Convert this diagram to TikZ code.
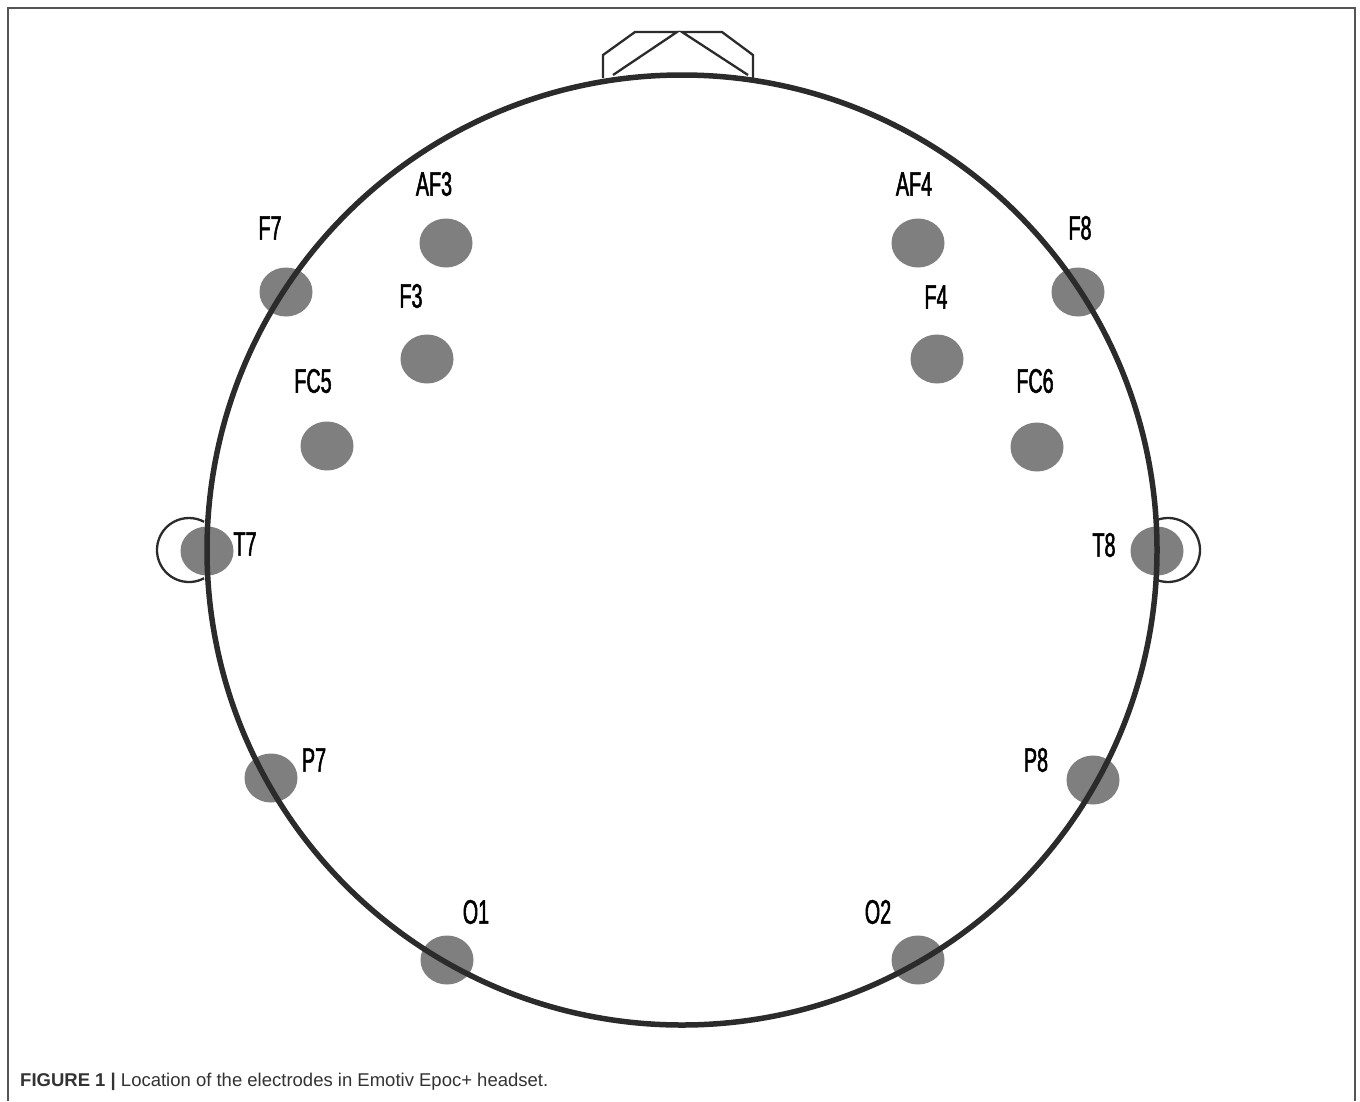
\documentclass[tikz,border=0pt]{standalone}
\usepackage{fontspec}
\setmainfont{Liberation Sans}
\newfontfamily\labfont[FakeStretch=0.58,FakeBold=1.5]{Liberation Sans}
\usetikzlibrary{shapes.geometric}
\definecolor{headcol}{HTML}{2B2B2B}
\definecolor{elcol}{HTML}{7F7F7F}
\definecolor{framecol}{HTML}{555555}
\definecolor{capcol}{HTML}{333333}
\tikzset{
  electrode/.style={ellipse, fill=elcol, draw=none, minimum width=53pt, minimum height=49pt, inner sep=0pt},
  elabel/.style={font=\labfont\fontsize{34}{38}\selectfont, text=black, inner sep=0pt},
  headline/.style={draw=headcol, line width=5.5pt},
  thinline/.style={draw=headcol, line width=2.3pt},
}
\begin{document}
\begin{tikzpicture}[x=1pt,y=-1pt]
\useasboundingbox (0,0) rectangle (1360,1101);
\fill[white] (0,0) rectangle (1360,1101);
% frame
\draw[framecol, line width=1.5pt] (8,1101) -- (8,8) -- (1355,8) -- (1355,1101);
% nose
\draw[thinline, line join=miter] (603,78) -- (603,55) -- (635,32) -- (677,32) -- (613,75);
\draw[thinline, line join=miter] (753,78) -- (753,55) -- (722,32) -- (682,32) -- (748,75);
% ears
\draw[thinline] (189,550) ++(62:32) arc[start angle=62, end angle=298, radius=32];
\draw[thinline] (1168,550) ++(-115:32) arc[start angle=-115, end angle=115, radius=32];
% electrodes
\node[electrode] (af3) at (446,243) {};
\node[electrode] (af4) at (918,243) {};
\node[electrode] (f7) at (286,292) {};
\node[electrode] (f8) at (1078,292) {};
\node[electrode] (f3) at (427,359) {};
\node[electrode] (f4) at (937,359) {};
\node[electrode] (fc5) at (327,446) {};
\node[electrode] (fc6) at (1037,447) {};
\node[electrode] (t7) at (207,551) {};
\node[electrode] (t8) at (1157,551) {};
\node[electrode] (p7) at (271,778) {};
\node[electrode] (p8) at (1093,780) {};
\node[electrode] (o1) at (447,960) {};
\node[electrode] (o2) at (918,960) {};
% head
\node[circle, headline, minimum size=950pt, inner sep=0pt] (head) at (682,550) {};
% labels
\node[elabel] (laf3) at (434,184) {AF3};
\node[elabel] (laf4) at (914,184) {AF4};
\node[elabel] (lf7) at (270,228) {F7};
\node[elabel] (lf8) at (1080,228) {F8};
\node[elabel] (lf3) at (411,296) {F3};
\node[elabel] (lf4) at (936,297) {F4};
\node[elabel] (lfc5) at (313,381) {FC5};
\node[elabel] (lfc6) at (1035,381) {FC6};
\node[elabel] (lt7) at (245,544) {T7};
\node[elabel] (lt8) at (1104,545) {T8};
\node[elabel] (lp7) at (314,760) {P7};
\node[elabel] (lp8) at (1036,760) {P8};
\node[elabel] (lo1) at (476,912) {O1};
\node[elabel] (lo2) at (878,912) {O2};
% caption
\node[anchor=west, inner sep=0pt, text=capcol, font=\fontsize{18.5}{22}\selectfont] (cap) at (20,1082) {\textbf{FIGURE 1 |} Location of the electrodes in Emotiv Epoc+ headset.};
\end{tikzpicture}
\end{document}
